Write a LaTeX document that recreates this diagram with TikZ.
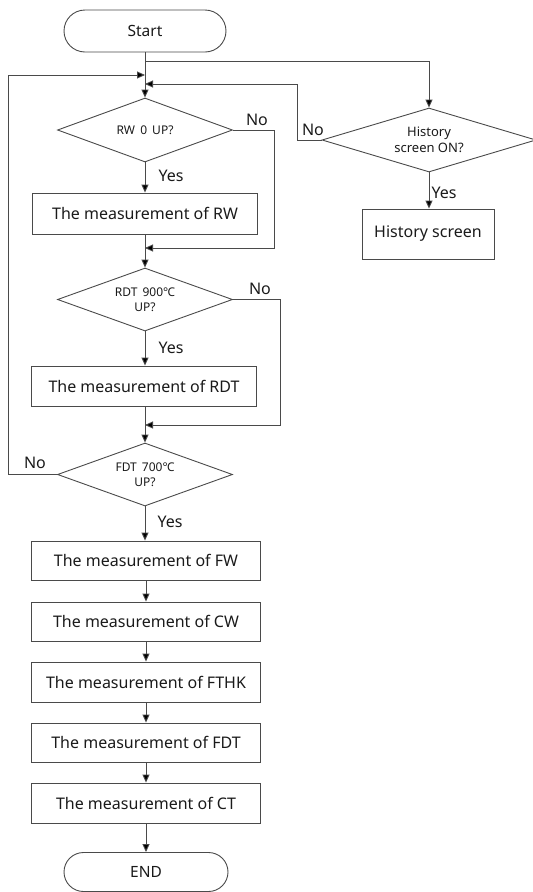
\documentclass[tikz,border=0pt]{standalone}
\usepackage{fontspec}
\setmainfont{Noto Sans}
\usetikzlibrary{shapes.geometric,shapes.misc,arrows.meta}
\definecolor{lc}{HTML}{4A4A4A}
\definecolor{tc}{HTML}{1A1A1A}
\tikzset{
  proc/.style={draw=lc,line width=0.9pt,rectangle,inner sep=0pt,text=tc,font=\fontsize{16}{19}\selectfont},
  term/.style={draw=lc,line width=0.9pt,rounded rectangle,inner sep=0pt,text=tc,font=\fontsize{15.5}{18}\selectfont},
  dec/.style={draw=lc,line width=0.9pt,diamond,inner sep=0pt,text=tc,align=center,font=\fontsize{12}{15}\selectfont},
  arr/.style={draw=lc,line width=0.9pt,-{Triangle[length=8pt,width=7pt,fill=black]}},
  ln/.style={draw=lc,line width=0.9pt},
  lbl/.style={text=tc,font=\fontsize{16}{19}\selectfont,inner sep=0pt}
}
\begin{document}
\begin{tikzpicture}[x=1pt,y=-1pt]
\useasboundingbox (0,0) rectangle (533,892);
% nodes
\node[term,minimum width=162pt,minimum height=42pt] (start) at (145,31) {Start};
\node[dec,minimum width=175pt,minimum height=64pt,aspect=2.73] (rw) at (145,130) {RW\, 0\, UP?};
\node[proc,minimum width=225pt,minimum height=41pt] (rwbox) at (145,213.5) {The measurement of RW};
\node[dec,minimum width=175pt,minimum height=63pt,aspect=2.78] (rdt) at (145,299.5) {RDT\, 900℃\\UP?};
\node[proc,minimum width=225pt,minimum height=40pt] (rdtbox) at (144,386) {The measurement of RDT};
\node[dec,minimum width=175pt,minimum height=63pt,aspect=2.78] (fdt) at (145,474.5) {FDT\, 700℃\\UP?};
\node[proc,minimum width=229pt,minimum height=39pt] (fw) at (146,560.5) {The measurement of FW};
\node[proc,minimum width=229pt,minimum height=39pt] (cw) at (146,621.5) {The measurement of CW};
\node[proc,minimum width=229pt,minimum height=40pt] (fthk) at (146,682) {The measurement of FTHK};
\node[proc,minimum width=229pt,minimum height=39pt] (fdtbox) at (146,742.5) {The measurement of FDT};
\node[proc,minimum width=229pt,minimum height=40pt] (ct) at (146,803) {The measurement of CT};
\node[term,minimum width=164pt,minimum height=39pt] (end) at (146,872) {END};
\node[dec,minimum width=214pt,minimum height=64pt,aspect=3.34,font=\fontsize{13}{16}\selectfont] (hist) at (429,140) {History\\screen ON?};
\node[proc,minimum width=132pt,minimum height=50pt] (histbox) at (428,234) {History screen};
% junction coordinates
\coordinate (b1) at (145,61);
\coordinate (j1) at (145,75);
\coordinate (j2) at (145,84);
\coordinate (j3) at (145,248);
\coordinate (j4) at (145,425);
\coordinate (lx) at (8,75);
\coordinate (hx) at (297,84);
\coordinate (rx) at (274,248);
\coordinate (dx) at (280,425);
% connectors
\draw[arr] (start.south) -- (rw.north);
\draw[arr] (b1) -| (hist.north);
\draw[arr] (rw.south) -- (rwbox.north);
\draw[arr] (rwbox.south) -- (rdt.north);
\draw[arr] (rdt.south) -- (rdt.south |- rdtbox.north);
\draw[arr] (rdt.south |- rdtbox.south) -- (fdt.north);
\draw[arr] (fdt.south) -- (fdt.south |- fw.north);
\draw[arr] (fw.south) -- (cw.north);
\draw[arr] (cw.south) -- (fthk.north);
\draw[arr] (fthk.south) -- (fdtbox.north);
\draw[arr] (fdtbox.south) -- (ct.north);
\draw[arr] (ct.south) -- (end.north);
\draw[arr] (hist.south) -- (hist.south |- histbox.north);
\draw[arr] (rw.east) -| (rx) -- (j3);
\draw[arr] (rdt.east) -| (dx) -- (j4);
\draw[arr] (fdt.west) -| (lx) -- (j1);
\draw[arr] (hist.west) -| (hx) -- (j2);
% labels
\node[lbl] (n1) at (257,120) {No};
\node[lbl] (y1) at (171,176) {Yes};
\node[lbl] (n2) at (260,289) {No};
\node[lbl] (y2) at (171,348) {Yes};
\node[lbl] (n3) at (35,463) {No};
\node[lbl] (y3) at (170,522) {Yes};
\node[lbl] (n4) at (313,130) {No};
\node[lbl] (y4) at (444,193) {Yes};
\end{tikzpicture}
\end{document}
